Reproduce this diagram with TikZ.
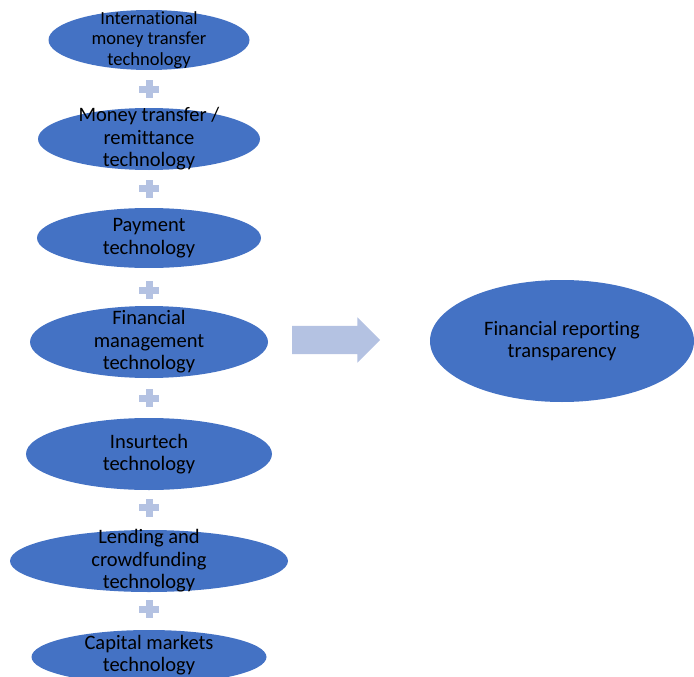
\documentclass[tikz,border=0pt]{standalone}
\usepackage{fontspec}
\setmainfont{Carlito}[Ligatures=NoCommon]
\usepackage{tikz}
\usetikzlibrary{calc,shapes.geometric,shapes.arrows}

\definecolor{bubblefill}{RGB}{68,114,196}
\definecolor{pluscol}{RGB}{180,194,226}

\begin{document}
\begin{tikzpicture}[x=1pt, y=-1pt,
    bubble/.style={ellipse, fill=bubblefill, inner sep=0pt},
    txt/.style={align=center, text=black, inner sep=0pt, font=\fontsize{20.5}{22.5}\selectfont},
    plus/.style={fill=pluscol}]
            \useasboundingbox (0,0) rectangle (694,677);

            % the technology bubbles
            \node[bubble, minimum width=201pt, minimum height=60pt] (E1) at (149,40) {};
            \node[bubble, minimum width=222pt, minimum height=62pt] (E2) at (149,139) {};
            \node[bubble, minimum width=224pt, minimum height=60pt] (E3) at (149,238) {};
            \node[bubble, minimum width=238pt, minimum height=72pt] (E4) at (149,342) {};
            \node[bubble, minimum width=246pt, minimum height=72pt] (E5) at (149,454) {};
            \node[bubble, minimum width=278pt, minimum height=62pt] (E6) at (149,561) {};
            \node[bubble, minimum width=235pt, minimum height=54pt] (E7) at (149,657) {};

            \node[txt, font=\fontsize{18.5}{20.5}\selectfont] (T1) at (E1) {International\\money transfer\\technology};
            \node[txt] (T2) at (E2) {Money transfer /\\remittance\\technology};
            \node[txt] (T3) at (E3) {Payment\\technology};
            \node[txt] (T4) at (E4) {Financial\\management\\technology};
            \node[txt] (T5) at (E5) {Insurtech\\technology};
            \node[txt] (T6) at (E6) {Lending and\\crowdfunding\\technology};
            \node[txt] (T7) at ($(E7)+(0,-2)$) {Capital markets\\technology};

            % plus signs between bubbles
            \foreach \i/\j in {1/2,2/3,3/4,4/5,5/6,6/7} {
                \coordinate (P\i) at ($(E\i)!0.5!(E\j)$);
                \fill[plus] ($(P\i)+(-10,-3.5)$) rectangle ($(P\i)+(10,3.5)$);
                \fill[plus] ($(P\i)+(-3.5,-9)$) rectangle ($(P\i)+(3.5,9)$);
            }

            % arrow and result
            \node[single arrow, fill=pluscol, inner sep=14pt, minimum height=88pt,
                  minimum width=45pt, single arrow head extend=8.5pt] (arr) at (329,340) {};
            \node[bubble, minimum width=264pt, minimum height=122pt] (R) at (562,341) {};
            \node[txt] (TR) at (R) {Financial reporting\\transparency};

        \end{tikzpicture}
\end{document}
